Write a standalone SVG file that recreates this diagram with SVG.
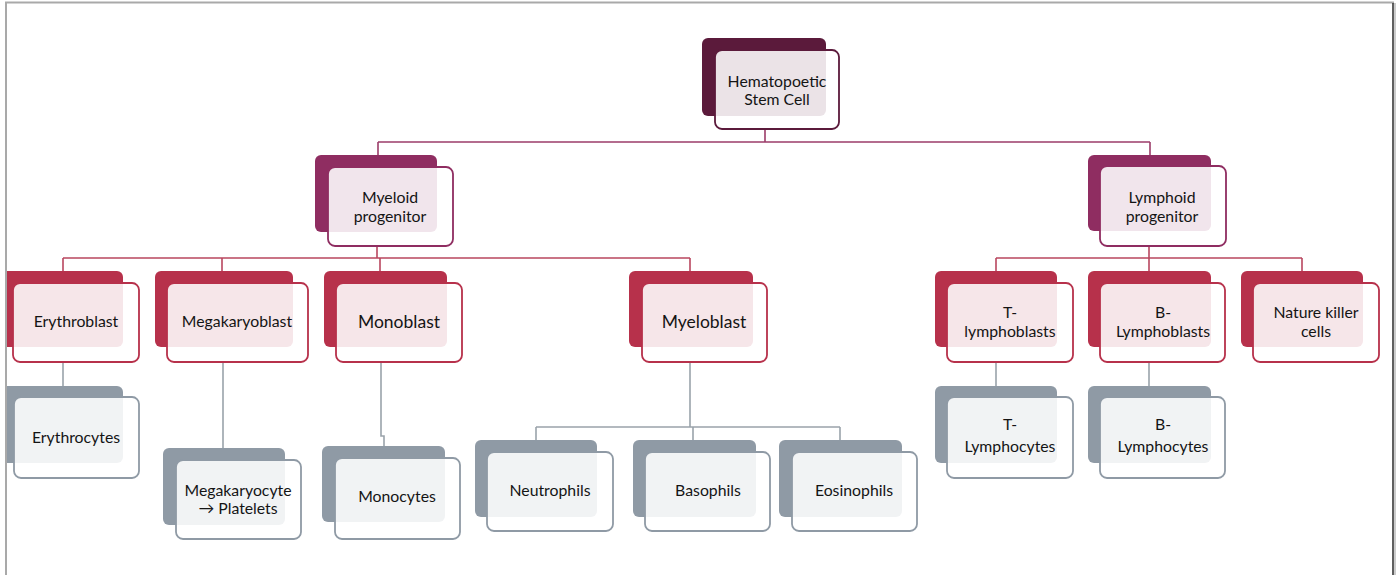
<svg xmlns="http://www.w3.org/2000/svg" width="1398" height="575" viewBox="0 0 1398 575">
<defs>
<clipPath id="frameClip"><rect x="7" y="4" width="1385" height="571"/></clipPath>
</defs>
<style>
.front{fill:#ffffff;fill-opacity:0.88;stroke-width:1.8}
.t{font-family:Lato,"Open Sans","Liberation Sans",sans-serif;font-size:15.8px;fill:#141414;text-anchor:middle}
.tb{font-size:17.5px}
.l0 .back{fill:#5B1A3B}.l0 .front{stroke:#5B1A3B}
.l1 .back{fill:#8F2D61}.l1 .front{stroke:#8F2D61}
.l2 .back{fill:#B7314B}.l2 .front{stroke:#B7314B}
.l3 .back{fill:#8F9AA5}.l3 .front{stroke:#8F9AA5}
.c0{stroke:#9C3C69;stroke-width:1.6;fill:none}
.c1{stroke:#B9475F;stroke-width:1.6;fill:none}
.c2{stroke:#9AA3AB;stroke-width:1.6;fill:none}
</style>
<rect x="0" y="0" width="1398" height="575" fill="#ffffff"/>
<g clip-path="url(#frameClip)">
<g id="connectors">
<path class="c0" d="M765 130V142M378 142H1150M378 142V155M1150 142V155"/>
<path class="c1" d="M377 246V258M63 258H690M63 258V271M222 258V271M380 258V271M690 258V271"/>
<path class="c1" d="M1149 246V258M996 258H1302M996 258V271M1149 258V271M1302 258V271"/>
<path class="c2" d="M63 362V386M223 362V448M381 362V436H384V446M690 362V427M536 427H840M536 427V440M693 427V440M840 427V440M996 362V386M1149 362V386"/>
</g>
<g id="hsc" class="l0"><rect class="back" x="702" y="38" width="124" height="78" rx="6"/><rect class="front" x="715" y="50" width="124" height="79" rx="7"/><text class="t" x="777" y="87">Hematopoetic</text><text class="t" x="777" y="105">Stem Cell</text></g>
<g id="myeloid" class="l1"><rect class="back" x="315" y="155" width="122" height="77" rx="6"/><rect class="front" x="328" y="167" width="125" height="79" rx="7"/><text class="t" x="390" y="203">Myeloid</text><text class="t" x="390" y="222">progenitor</text></g>
<g id="lymphoid" class="l1"><rect class="back" x="1088" y="155" width="123" height="76" rx="6"/><rect class="front" x="1100" y="166" width="126" height="80" rx="7"/><text class="t" x="1162" y="203">Lymphoid</text><text class="t" x="1162" y="222">progenitor</text></g>
<g id="erythroblast" class="l2"><rect class="back" x="1" y="271" width="122" height="76" rx="6"/><rect class="front" x="13" y="283" width="126" height="79" rx="7"/><text class="t" x="76" y="327">Erythroblast</text></g>
<g id="megakaryoblast" class="l2"><rect class="back" x="155" y="271" width="138" height="76" rx="6"/><rect class="front" x="167" y="283" width="141" height="79" rx="7"/><text class="t" x="237" y="327">Megakaryoblast</text></g>
<g id="monoblast" class="l2"><rect class="back" x="324" y="271" width="123" height="76" rx="6"/><rect class="front" x="336" y="283" width="126" height="79" rx="7"/><text class="t tb" x="399" y="328">Monoblast</text></g>
<g id="myeloblast" class="l2"><rect class="back" x="629" y="271" width="124" height="76" rx="6"/><rect class="front" x="642" y="283" width="125" height="79" rx="7"/><text class="t tb" x="704" y="328">Myeloblast</text></g>
<g id="tlymphoblasts" class="l2"><rect class="back" x="935" y="271" width="122" height="76" rx="6"/><rect class="front" x="947" y="283" width="126" height="79" rx="7"/><text class="t" x="1010" y="318">T-</text><text class="t" x="1010" y="337">lymphoblasts</text></g>
<g id="blymphoblasts" class="l2"><rect class="back" x="1088" y="271" width="123" height="76" rx="6"/><rect class="front" x="1100" y="283" width="125" height="79" rx="7"/><text class="t" x="1163" y="318">B-</text><text class="t" x="1163" y="337">Lymphoblasts</text></g>
<g id="nk" class="l2"><rect class="back" x="1241" y="271" width="122" height="76" rx="6"/><rect class="front" x="1253" y="283" width="126" height="79" rx="7"/><text class="t" x="1316" y="318">Nature killer</text><text class="t" x="1316" y="337">cells</text></g>
<g id="erythrocytes" class="l3"><rect class="back" x="1" y="386" width="122" height="77" rx="6"/><rect class="front" x="14" y="397" width="125" height="81" rx="7"/><text class="t" x="76" y="443">Erythrocytes</text></g>
<g id="megakaryocyte" class="l3"><rect class="back" x="163" y="448" width="122" height="77" rx="6"/><rect class="front" x="176" y="460" width="125" height="79" rx="7"/><text class="t" x="238" y="496">Megakaryocyte</text><text class="t" x="238" y="514">→ Platelets</text></g>
<g id="monocytes" class="l3"><rect class="back" x="322" y="446" width="123" height="76" rx="6"/><rect class="front" x="335" y="458" width="125" height="81" rx="7"/><text class="t" x="397" y="502">Monocytes</text></g>
<g id="neutrophils" class="l3"><rect class="back" x="475" y="440" width="122" height="77" rx="6"/><rect class="front" x="487" y="452" width="126" height="79" rx="7"/><text class="t" x="550" y="496">Neutrophils</text></g>
<g id="basophils" class="l3"><rect class="back" x="633" y="440" width="123" height="77" rx="6"/><rect class="front" x="645" y="452" width="125" height="79" rx="7"/><text class="t" x="708" y="496">Basophils</text></g>
<g id="eosinophils" class="l3"><rect class="back" x="779" y="440" width="123" height="77" rx="6"/><rect class="front" x="792" y="452" width="125" height="79" rx="7"/><text class="t" x="854" y="496">Eosinophils</text></g>
<g id="tlymphocytes" class="l3"><rect class="back" x="935" y="386" width="122" height="77" rx="6"/><rect class="front" x="947" y="397" width="126" height="81" rx="7"/><text class="t" x="1010" y="430">T-</text><text class="t" x="1010" y="452">Lymphocytes</text></g>
<g id="blymphocytes" class="l3"><rect class="back" x="1088" y="386" width="123" height="77" rx="6"/><rect class="front" x="1100" y="397" width="125" height="81" rx="7"/><text class="t" x="1163" y="430">B-</text><text class="t" x="1163" y="452">Lymphocytes</text></g>
</g>
<g id="frame">
<line x1="5" y1="2.5" x2="1394" y2="2.5" stroke="#A9A9A9" stroke-width="2"/>
<line x1="6" y1="2" x2="6" y2="575" stroke="#A9A9A9" stroke-width="2"/>
<line x1="1393" y1="3" x2="1393" y2="575" stroke="#2A2A2A" stroke-width="1.5"/>
<line x1="1395" y1="3" x2="1395" y2="575" stroke="#BBBBBB" stroke-width="1.5"/>
</g>
</svg>
